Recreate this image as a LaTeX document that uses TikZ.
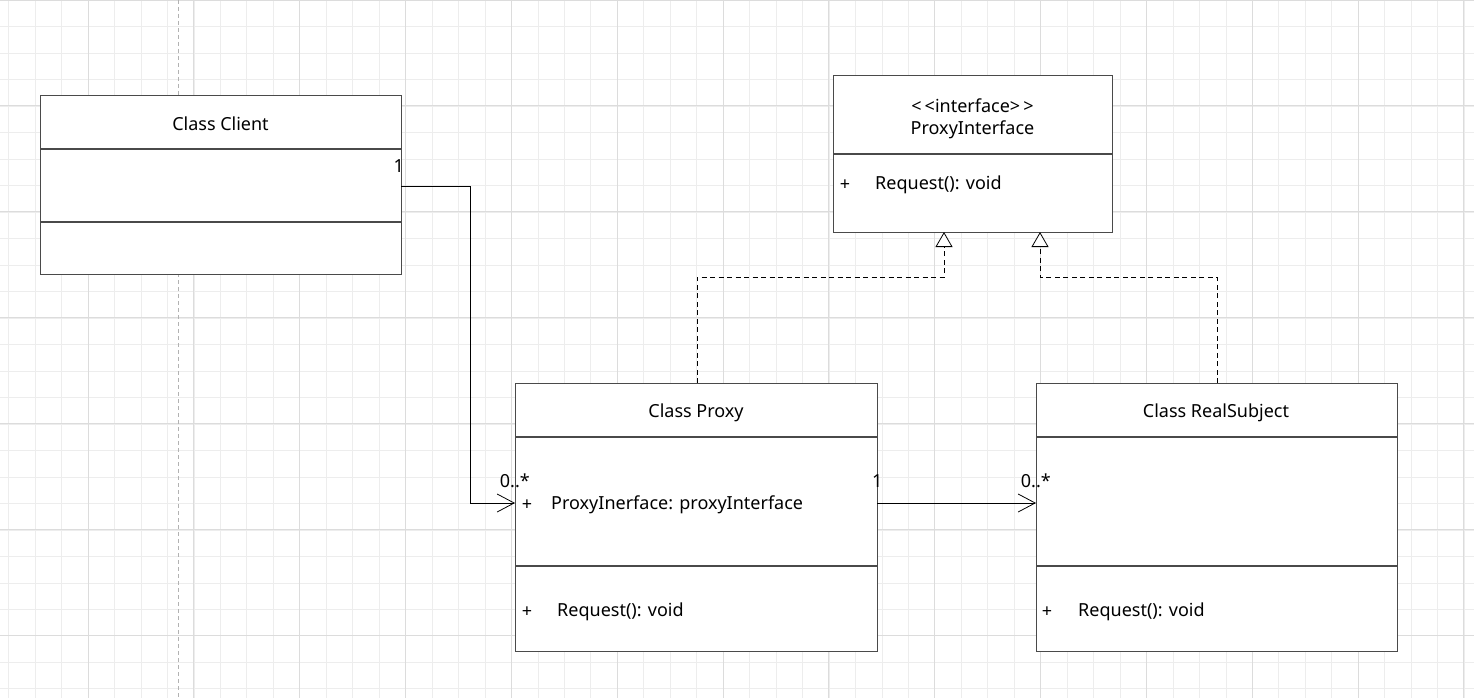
\documentclass[tikz,border=0pt]{standalone}
\usepackage{fontspec}
\setmainfont{Noto Sans}
\usetikzlibrary{arrows.meta}

\definecolor{gridminor}{HTML}{EDEDED}
\definecolor{gridmajor}{HTML}{DCDCDC}
\definecolor{boxline}{HTML}{4A4A4A}

\tikzset{
	umlbox/.style={draw=boxline, line width=1.3pt, fill=white, rectangle, anchor=north west, inner sep=0pt},
	divider/.style={draw=boxline, line width=1.3pt},
	umltext/.style={inner sep=0pt, yshift=-2pt, font=\fontsize{18}{21}\selectfont},
	mult/.style={inner sep=0pt, yshift=-1pt, font=\fontsize{18}{21}\selectfont},
	assoc/.style={draw=black, line width=0.9pt, -{Straight Barb[length=17pt, width=18pt, line width=0.8pt]}},
	realize/.style={draw=black, line width=0.9pt, dash pattern=on 5pt off 3.5pt, -{Triangle[open, length=15pt, width=17pt, fill=white, line width=0.8pt]}}
}

\begin{document}
\begin{tikzpicture}[x=1pt, y=-1pt]
	\useasboundingbox (0,0) rectangle (1474,698);
	\fill[white] (0,0) rectangle (1474,698);

	% grid
	\foreach \i in {0,...,56}
		\draw[gridminor, line width=0.9pt] ({8.8+26.46*\i},0) -- ({8.8+26.46*\i},698);
	\foreach \i in {0,...,26}
		\draw[gridminor, line width=0.9pt] (0,{0.4+26.48*\i}) -- (1474,{0.4+26.48*\i});
	\foreach \i in {0,...,13}
		\draw[gridmajor, line width=1pt] ({88+105.84*\i},0) -- ({88+105.84*\i},698);
	\foreach \i in {0,...,5}
		\draw[gridmajor, line width=1pt] (0,{106+105.92*\i}) -- (1474,{106+105.92*\i});
	\draw[gridmajor, line width=1pt] (0,0.5) -- (1474,0.5);
	\draw[gray!60, line width=1pt, dash pattern=on 4pt off 3pt] (178,0) -- (178,698);

	% boxes
	\node[umlbox, minimum width=361pt, minimum height=179pt] (client) at (40,95) {};
	\node[umlbox, minimum width=279pt, minimum height=157pt] (iface) at (833,75) {};
	\node[umlbox, minimum width=362pt, minimum height=268pt] (proxy) at (515,383) {};
	\node[umlbox, minimum width=361pt, minimum height=268pt] (real) at (1036,383) {};

	\draw[divider] (client.west |- 0,149) -- (client.east |- 0,149);
	\draw[divider] (client.west |- 0,222) -- (client.east |- 0,222);
	\draw[divider] (iface.west |- 0,154) -- (iface.east |- 0,154);
	\draw[divider] (proxy.west |- 0,437) -- (proxy.east |- 0,437);
	\draw[divider] (proxy.west |- 0,566) -- (proxy.east |- 0,566);
	\draw[divider] (real.west |- 0,437) -- (real.east |- 0,437);
	\draw[divider] (real.west |- 0,566) -- (real.east |- 0,566);

	% texts
	\node[umltext] (clientname) at (220.5,122) {Class Client};
	\node[umltext] (ifacestereo) at (972.5,104) {<\kern3pt<interface>\kern3pt>};
	\node[umltext] (ifacename) at (972.5,128) {ProxyInterface};
	\node[umltext] (ifaceplus) at (845,183) {+};
	\node[umltext, anchor=west] (ifaceop) at (875,183) {Request(): void};
	\node[umltext] (proxyname) at (696,411) {Class Proxy};
	\node[umltext] (proxyplusa) at (527,503) {+};
	\node[umltext, anchor=west] (proxyattr) at (551,503) {ProxyInerface: proxyInterface};
	\node[umltext] (proxyplusb) at (527,610) {+};
	\node[umltext, anchor=west] (proxyop) at (557,610) {Request(): void};
	\node[umltext] (realname) at (1216,411) {Class RealSubject};
	\node[umltext] (realplus) at (1047,610) {+};
	\node[umltext, anchor=west] (realop) at (1078,610) {Request(): void};

	% ports
	\coordinate (clientout) at (401,186);
	\coordinate (proxyin) at (515,503);
	\coordinate (proxyout) at (877,503);
	\coordinate (realin) at (1036,503);
	\coordinate (proxytop) at (697,383);
	\coordinate (realtop) at (1217,383);
	\coordinate (ifacea) at (944,232);
	\coordinate (ifaceb) at (1040,232);

	% connectors
	\draw[assoc] (clientout) -- (470,186) |- (proxyin);
	\draw[assoc] (proxyout) -- (realin);
	\draw[realize] (proxytop) |- (944,277) -- (ifacea);
	\draw[realize] (realtop) |- (1040,277) -- (ifaceb);

	% multiplicities
	\node[mult, anchor=east] (m1) at (404,165) {1};
	\node[mult, anchor=east] (m2) at (530,480) {0..*};
	\node[mult, anchor=west] (m3) at (872,480) {1};
	\node[mult, anchor=east] (m4) at (1051,480) {0..*};
\end{tikzpicture}
\end{document}
